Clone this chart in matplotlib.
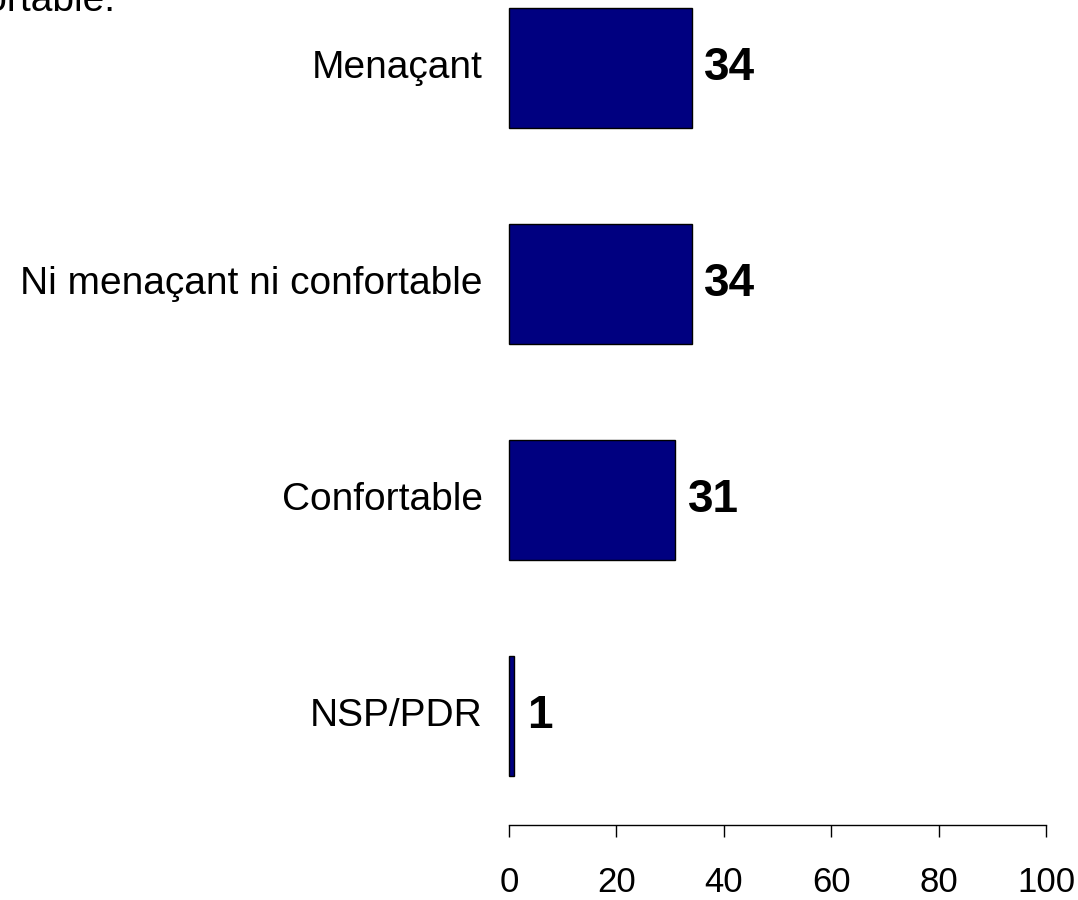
import matplotlib
matplotlib.use("Agg")
import matplotlib.pyplot as plt

# data
categories = ["NSP/PDR", "Confortable", "Ni menaçant ni confortable", "Menaçant"]
values = [1, 31, 34, 34]
ticks = [0, 20, 40, 60, 80, 100]
title = "Trouvez-vous le contexte actuel menaçant ou confortable."

plt.rcParams['font.family'] = ['Liberation Sans', 'DejaVu Sans']

fig = plt.figure(figsize=(10.78, 9.0), dpi=100)
ax = fig.add_axes([509 / 1078, 1 - 825 / 900, 537 / 1078, 825 / 900])

ypos = list(range(len(categories)))
bars = ax.barh(ypos, values, height=0.556, color='#000080', edgecolor='black', linewidth=1.0)
for b in bars:
    b.set_clip_on(False)

ax.set_xlim(0, 100)
ax.set_ylim(-0.505, 3.314)

# value labels
for y, v in zip(ypos, values):
    ax.annotate(str(v), xy=(v, y), xytext=(9, 0), textcoords='offset points',
                ha='left', va='center', fontsize=33, fontweight='bold')

# category labels
for y, c in zip(ypos, categories):
    ax.annotate(c, xy=(0, y), xytext=(-19, 0), textcoords='offset points',
                ha='right', va='center', fontsize=28)

for s in ['top', 'right', 'left']:
    ax.spines[s].set_visible(False)
ax.spines['bottom'].set_linewidth(1.0)
ax.set_yticks([])
ax.set_xticks(ticks)
ax.set_xticklabels([str(t) for t in ticks], fontsize=25)
ax.tick_params(axis='x', length=8.6, width=1.0, pad=21)

# title, cut off at top-left as in the original
fig.text(115 / 1078, 1 - 11 / 900, title, ha='right', va='baseline', fontsize=28)

fig.savefig("out.png", dpi=100)
